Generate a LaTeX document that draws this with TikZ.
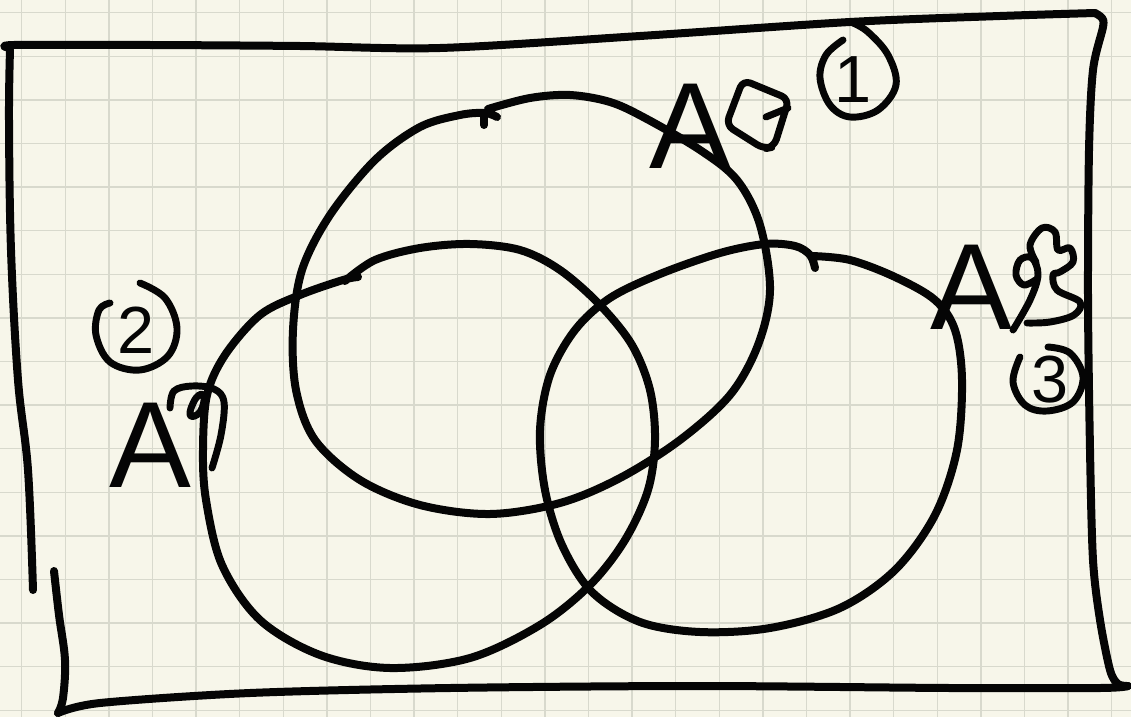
\documentclass[tikz,border=0pt]{standalone}
\usepackage{fontspec}
\setmainfont{Liberation Sans}
\definecolor{paper}{HTML}{F7F6EA}
\definecolor{gridc}{HTML}{D8D9CD}
\definecolor{ink}{HTML}{050505}
\tikzset{
  pen/.style={draw=ink, line width=6pt, line cap=round, line join=round},
  thinpen/.style={draw=ink, line width=5.2pt, line cap=round, line join=round},
  letter/.style={text=ink, font=\fontsize{92}{92}\selectfont, inner sep=0pt},
  digit/.style={text=ink, font=\fontsize{50}{50}\selectfont, inner sep=0pt}
}
\begin{document}
\begin{tikzpicture}[x=0.75pt,y=-0.75pt]
\fill[paper] (0,0) rectangle (1131,717);
\useasboundingbox (0,0) rectangle (1131,717);
% grid
\foreach \i in {0,...,25} {
  \draw[gridc, line width=1pt] ({21.7+43.6*\i},0) -- ({21.7+43.6*\i},717);
}
\foreach \j in {0,...,16} {
  \draw[gridc, line width=1pt] (0,{12.7+43.6*\j}) -- (1131,{12.7+43.6*\j});
}
% frame
\draw[pen] plot[smooth, tension=0.6] coordinates {(33,590) (28,470) (18,380) (11,250) (9,120) (10,50)};
\draw[pen] plot[smooth, tension=0.5] coordinates {(10,48) (14,45) (150,45) (300,46) (440,48) (640,36) (850,22) (1000,16) (1095,13)};
\draw[pen] plot[smooth, tension=0.5] coordinates {(1095,13) (1102,18) (1103,27) (1093,70) (1089,150) (1088,300) (1090,450) (1093,560) (1100,620) (1110,670) (1118,684) (1128,686)};
\draw[pen] plot[smooth, tension=0.5] coordinates {(1128,686) (1100,688) (950,688) (700,686) (450,688) (250,693) (100,703) (58,713)};
\draw[pen] plot[smooth, tension=0.6] coordinates {(58,713) (63,698) (65,660) (59,615) (54,571)};
% circle 1 (top)
\draw[pen] plot[smooth, tension=0.55] coordinates {(488,109) (530,98) (570,95) (610,102) (645,118) (700,150) (737,180) (760,225) (770,290) (758,345) (730,395) (680,440) (620,478) (560,503) (490,514) (420,505) (360,480) (315,440) (296,390) (293,330) (302,270) (330,215) (375,160) (420,127) (460,115) (485,113) (497,117)};
\draw[pen] (484,113) -- (484,125);
% circle 2 (left)
\draw[pen] plot[smooth, tension=0.55] coordinates {(345,281) (375,260) (420,248) (470,244) (520,250) (560,270) (600,305) (632,345) (650,390) (655,440) (648,490) (625,540) (590,585) (540,625) (470,658) (390,668) (320,655) (260,620) (222,565) (206,500) (203,450) (207,395) (225,355) (260,315) (300,295) (343,280) (358,277)};
% circle 3 (right)
\draw[pen] plot[smooth, tension=0.55] coordinates {(815,268) (810,255) (795,246) (765,244) (720,253) (660,274) (610,298) (575,330) (550,375) (540,430) (545,490) (562,545) (592,592) (640,622) (700,632) (770,628) (840,608) (895,570) (935,515) (957,450) (962,380) (955,330) (935,300) (895,277) (850,260) (812,256)};
% label 1
\node[letter] (a1) at (690,126) {A};
\draw[thinpen, rounded corners=6pt] (743,80) -- (789,99) -- (774,147) -- (764,149) -- (726,125) -- cycle;
\draw[thinpen] (766,117) -- (788,108);
\draw[thinpen] plot[smooth, tension=0.6] coordinates {(843,40) (826,55) (820,78) (830,105) (850,117) (878,110) (896,85) (888,55) (868,32) (853,23)};
\node[digit] (n1) at (853,80) {1};
% label 2
\node[letter] (a2) at (150,445) {A};
\draw[thinpen] plot[smooth, tension=0.6] coordinates {(212,468) (221,435) (224,402) (214,389) (192,386) (174,391) (170,408)};
\draw[thinpen] plot[smooth cycle, tension=0.8] coordinates {(190,415) (196,398) (204,396) (200,412)};
\draw[thinpen] plot[smooth, tension=0.6] coordinates {(140,283) (165,298) (177,328) (168,356) (140,370) (110,362) (96,335) (99,310) (110,303)};
\node[digit] (n2) at (136,330) {2};
% label 3
\node[letter] (a3) at (971,287) {A};
\draw[thinpen] plot[smooth, tension=0.6] coordinates {(1013,330) (1030,300) (1038,275) (1032,258) (1020,260) (1016,275) (1024,285) (1037,279)};
\draw[thinpen] plot[smooth, tension=0.6] coordinates {(1036,262) (1030,245) (1042,228) (1055,232) (1058,250) (1070,248) (1073,262) (1060,272) (1053,275) (1057,290) (1080,302) (1074,315) (1050,322) (1027,323)};
\draw[thinpen] plot[smooth, tension=0.6] coordinates {(1020,357) (1013,382) (1025,405) (1047,411) (1073,402) (1083,377) (1070,353) (1048,347)};
\node[digit] (n3) at (1050,380) {3};
\end{tikzpicture}
\end{document}
